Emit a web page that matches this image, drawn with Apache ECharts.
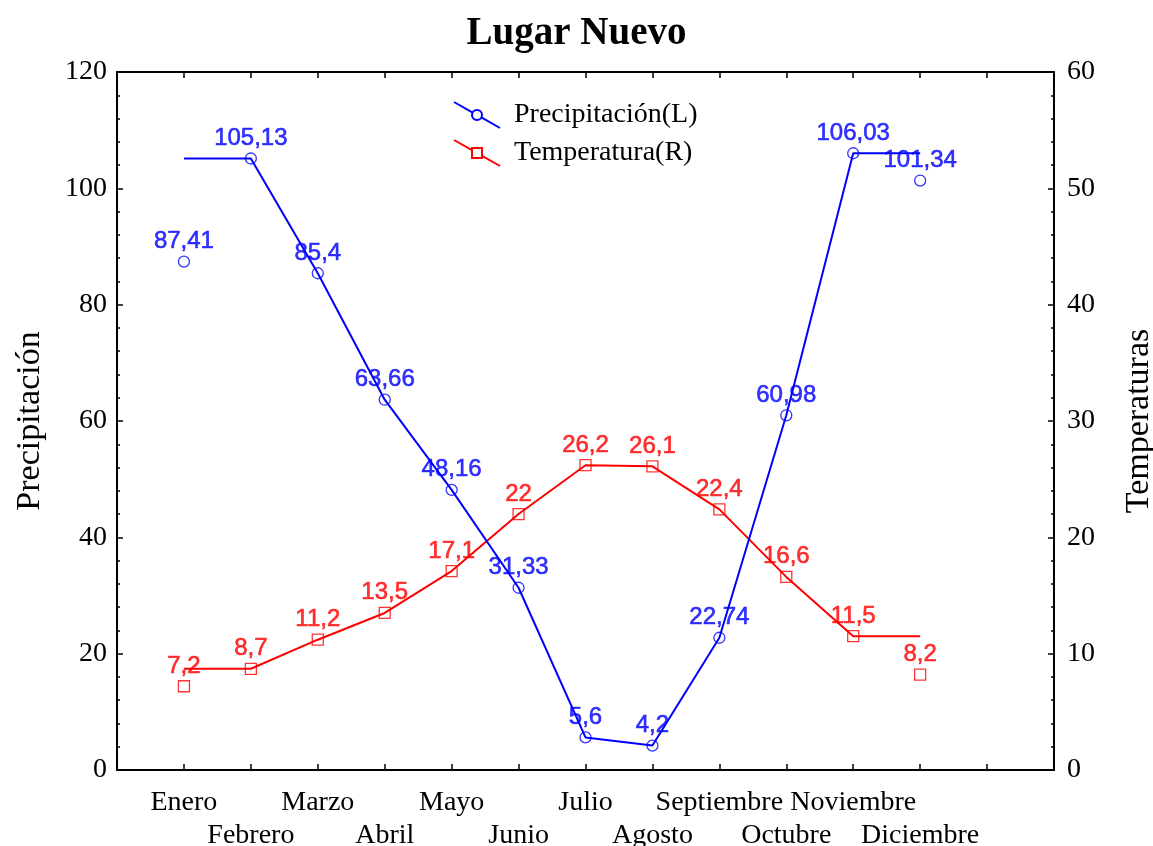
<!DOCTYPE html>
<html>
<head>
<meta charset="utf-8">
<script src="https://cdn.jsdelivr.net/npm/echarts@6/dist/echarts.min.js"></script>
<style>html,body{margin:0;padding:0;background:#fff}#c{width:1153px;height:846px}</style>
</head>
<body>
<div id="c"></div>
<script>
// Data
const months = ['Enero','Febrero','Marzo','Abril','Mayo','Junio','Julio','Agosto','Septiembre','Octubre','Noviembre','Diciembre'];
const precipitacion = [87.41, 105.13, 85.4, 63.66, 48.16, 31.33, 5.6, 4.2, 22.74, 60.98, 106.03, 101.34];
const temperatura = [7.2, 8.7, 11.2, 13.5, 17.1, 22, 26.2, 26.1, 22.4, 16.6, 11.5, 8.2];
// the connecting lines as drawn in the picture (flat at both ends)
const precipLine = [105.13, 105.13, 85.4, 63.66, 48.16, 31.33, 5.6, 4.2, 22.74, 60.98, 106.03, 106.03];
const tempLine = [8.7, 8.7, 11.2, 13.5, 17.1, 22, 26.2, 26.1, 22.4, 16.6, 11.5, 11.5];
const leftTicks = [0, 120, 20];
const rightTicks = [0, 60, 10];

const BLUE = '#0000ff', RED = '#ff0000';
const SERIF = '"Liberation Serif", "Times New Roman", serif';
const SANS = '"Liberation Sans", Arial, sans-serif';

const toPairs = arr => arr.map((v, i) => [i + 1, v]);
const fmt = v => String(v).replace('.', ',');

const iconCircle = 'path://M0 0 L18.65 10.54 M27.35 15.46 L46 26 M28 13 A5 5 0 1 1 18 13 A5 5 0 1 1 28 13 Z';
const iconSquare = 'path://M0 0 L18 10.17 M28 15.83 L46 26 M18 8 L28 8 L28 18 L18 18 Z';

const chart = echarts.init(document.getElementById('c'), null, {renderer: 'canvas'});

const axisLineStyle = {show: true, onZero: false, lineStyle: {color: '#000', width: 2}};
const tickStyle = {show: true, inside: true, length: 6, lineStyle: {color: '#000', width: 1.5}};

const xBase = {
  type: 'value', min: 0, max: 14, interval: 1,
  axisLine: axisLineStyle,
  axisTick: tickStyle,
  splitLine: {show: false}
};

chart.setOption({
  animation: false,
  backgroundColor: '#fff',
  title: {
    text: 'Lugar Nuevo', left: 'center', top: 9,
    textStyle: {fontFamily: SERIF, fontSize: 39, fontWeight: 'bold', color: '#000'}
  },
  legend: {
    orient: 'vertical', left: 453, top: 101, padding: 0,
    itemWidth: 46, itemHeight: 26, itemGap: 10,
    selectedMode: false,
    textStyle: {fontFamily: SERIF, fontSize: 28, color: '#000', padding: [0, 0, 0, 9]},
    data: [
      {name: 'Precipitación(L)', icon: iconCircle, itemStyle: {color: '#fff', borderColor: BLUE, borderWidth: 2}},
      {name: 'Temperatura(R)', icon: iconSquare, itemStyle: {color: '#fff', borderColor: RED, borderWidth: 2}}
    ]
  },
  grid: {left: 117, right: 99, top: 72, bottom: 76, containLabel: false, outerBoundsMode: 'none'},
  xAxis: [
    Object.assign({}, xBase, {
      position: 'bottom',
      axisLabel: {
        show: true, margin: 16, fontFamily: SERIF, fontSize: 28, color: '#000', lineHeight: 33,
        formatter: v => {
          if (v < 1 || v > 12) return '';
          const name = months[v - 1];
          return (v % 2 === 0) ? '\n' + name : name;
        }
      }
    }),
    Object.assign({}, xBase, {position: 'top', axisLabel: {show: false}})
  ],
  yAxis: [
    {
      type: 'value', position: 'left', min: leftTicks[0], max: leftTicks[1], interval: leftTicks[2],
      name: 'Precipitación', nameLocation: 'middle', nameRotate: 90, nameGap: 70,
      nameTextStyle: {fontFamily: SERIF, fontSize: 34, color: '#000'},
      axisLine: axisLineStyle,
      axisTick: tickStyle,
      minorTick: {show: true, splitNumber: 5, length: 3, lineStyle: {color: '#000', width: 1.5}},
      splitLine: {show: false},
      axisLabel: {margin: 10, fontFamily: SERIF, fontSize: 28, color: '#000'}
    },
    {
      type: 'value', position: 'right', min: rightTicks[0], max: rightTicks[1], interval: rightTicks[2],
      name: 'Temperaturas', nameLocation: 'middle', nameRotate: 90, nameGap: 68,
      nameTextStyle: {fontFamily: SERIF, fontSize: 34, color: '#000'},
      axisLine: axisLineStyle,
      axisTick: tickStyle,
      minorTick: {show: true, splitNumber: 5, length: 3, lineStyle: {color: '#000', width: 1.5}},
      splitLine: {show: false},
      axisLabel: {margin: 13, fontFamily: SERIF, fontSize: 28, color: '#000'}
    }
  ],
  series: [
    {
      name: 'Precipitación(L)', type: 'line', xAxisIndex: 0, yAxisIndex: 0,
      data: toPairs(precipLine), showSymbol: false, symbol: 'none',
      lineStyle: {color: BLUE, width: 2}, itemStyle: {color: BLUE}, z: 3
    },
    {
      name: 'Temperatura(R)', type: 'line', xAxisIndex: 0, yAxisIndex: 1,
      data: toPairs(tempLine), showSymbol: false, symbol: 'none',
      lineStyle: {color: RED, width: 2}, itemStyle: {color: RED}, z: 2
    },
    {
      name: 'precip_pts', type: 'scatter', xAxisIndex: 0, yAxisIndex: 0,
      data: toPairs(precipitacion), symbol: 'circle', symbolSize: 11,
      itemStyle: {color: 'rgba(255,255,255,0)', borderColor: BLUE, borderWidth: 1.3},
      label: {show: true, position: 'top', distance: 2, color: BLUE, fontFamily: SANS, fontSize: 24,
              textBorderColor: BLUE, textBorderWidth: 0.6,
              formatter: p => fmt(p.value[1])},
      z: 5
    },
    {
      name: 'temp_pts', type: 'scatter', xAxisIndex: 0, yAxisIndex: 1,
      data: toPairs(temperatura), symbol: 'rect', symbolSize: 11,
      itemStyle: {color: 'rgba(255,255,255,0)', borderColor: RED, borderWidth: 1.3},
      label: {show: true, position: 'top', distance: 2, color: RED, fontFamily: SANS, fontSize: 24,
              textBorderColor: RED, textBorderWidth: 0.6,
              formatter: p => fmt(p.value[1])},
      z: 4
    }
  ]
});
</script>
</body>
</html>
